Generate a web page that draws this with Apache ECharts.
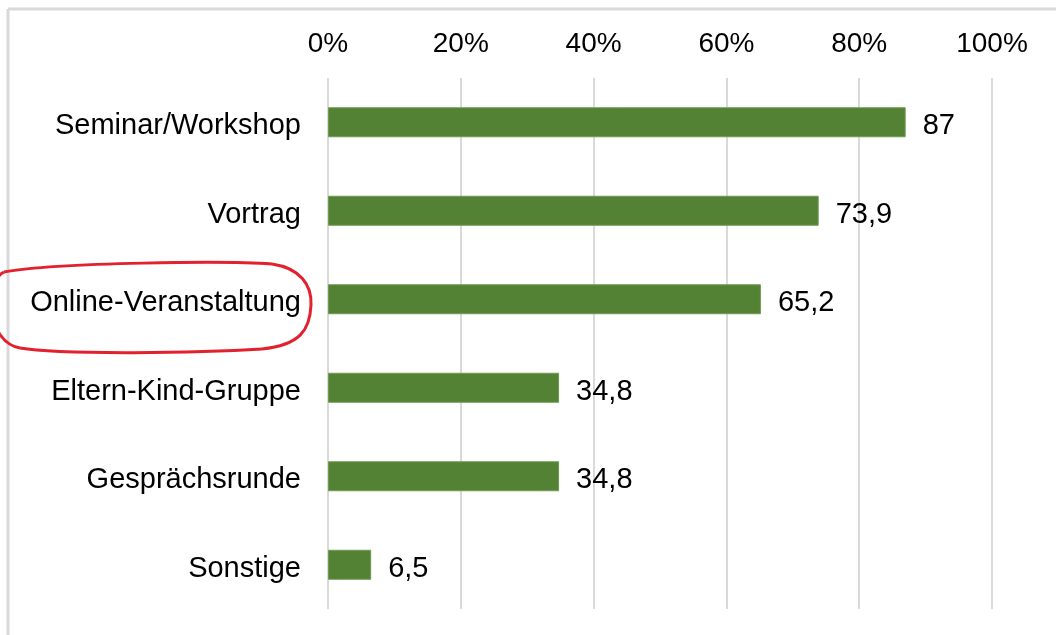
<!DOCTYPE html>
<html>
<head>
<meta charset="utf-8">
<script src="https://cdn.jsdelivr.net/npm/echarts@6/dist/echarts.min.js"></script>
<style>
html,body{margin:0;padding:0;background:#fff;}
#chart{width:1056px;height:635px;}
</style>
</head>
<body>
<div id="chart"></div>
<script>
// Daten
var categories = ['Seminar/Workshop', 'Vortrag', 'Online-Veranstaltung', 'Eltern-Kind-Gruppe', 'Gesprächsrunde', 'Sonstige'];
var values = [87, 73.9, 65.2, 34.8, 34.8, 6.5];
var tickLabels = ['0%', '20%', '40%', '60%', '80%', '100%'];

var font = '"Liberation Sans", Arial, sans-serif';
var chart = echarts.init(document.getElementById('chart'));

// rote Markierung aus Bezier-Stuecken
var ringStyle = { fill: 'none', stroke: '#e3202e', lineWidth: 3 };
function curve(x1, y1, c1x, c1y, c2x, c2y, x2, y2) {
	return {
		type: 'bezierCurve',
		shape: { x1: x1, y1: y1, cpx1: c1x, cpy1: c1y, cpx2: c2x, cpy2: c2y, x2: x2, y2: y2 },
		style: ringStyle,
		z: 100
	};
}

var option = {
	backgroundColor: '#fff',
	animation: false,
	grid: { left: 328, right: 64, top: 78, bottom: 26 },
	xAxis: {
		type: 'value',
		position: 'top',
		min: 0,
		max: 100,
		interval: 20,
		axisLine: { show: false },
		axisTick: { show: false },
		axisLabel: {
			margin: 20,
			fontSize: 28,
			fontFamily: font,
			color: '#000',
			formatter: function (v) { return tickLabels[Math.round(v / 20)]; }
		},
		splitLine: { show: true, lineStyle: { color: '#d9d9d9', width: 2 } }
	},
	yAxis: {
		type: 'category',
		inverse: true,
		data: categories,
		axisLine: { show: false },
		axisTick: { show: false },
		axisLabel: {
			margin: 27,
			formatter: function (v) { return '{a|' + v + '}'; },
			rich: { a: { fontSize: 29, fontFamily: font, color: '#000', padding: [8, 0, 0, 0] } }
		}
	},
	series: [{
		type: 'bar',
		data: values,
		barWidth: 30,
		itemStyle: { color: '#548235', borderColor: '#6f9a52', borderWidth: 1 },
		label: {
			show: true,
			position: 'right',
			distance: 17,
			offset: [0, 4],
			fontSize: 29,
			fontFamily: font,
			color: '#000',
			formatter: function (p) { return String(p.value).replace('.', ','); }
		}
	}],
	graphic: [
		// Rahmen oben und links
		{ type: 'line', shape: { x1: 8, y1: 9, x2: 1056, y2: 9 }, style: { stroke: '#d9d9d9', lineWidth: 3 } },
		{ type: 'line', shape: { x1: 8, y1: 9, x2: 8, y2: 635 }, style: { stroke: '#d9d9d9', lineWidth: 3 } },
		curve(4, 272, 60, 262, 230, 261, 272, 264),
		curve(272, 264, 300, 268, 312, 285, 311, 305),
		curve(311, 305, 310, 330, 300, 345, 262, 349),
		curve(262, 349, 200, 353, 60, 355, 20, 348),
		curve(20, 348, -14, 342, -16, 282, 4, 272)
	]
};

chart.setOption(option);
window.onresize = function () { chart.resize(); };
</script>
</body>
</html>
